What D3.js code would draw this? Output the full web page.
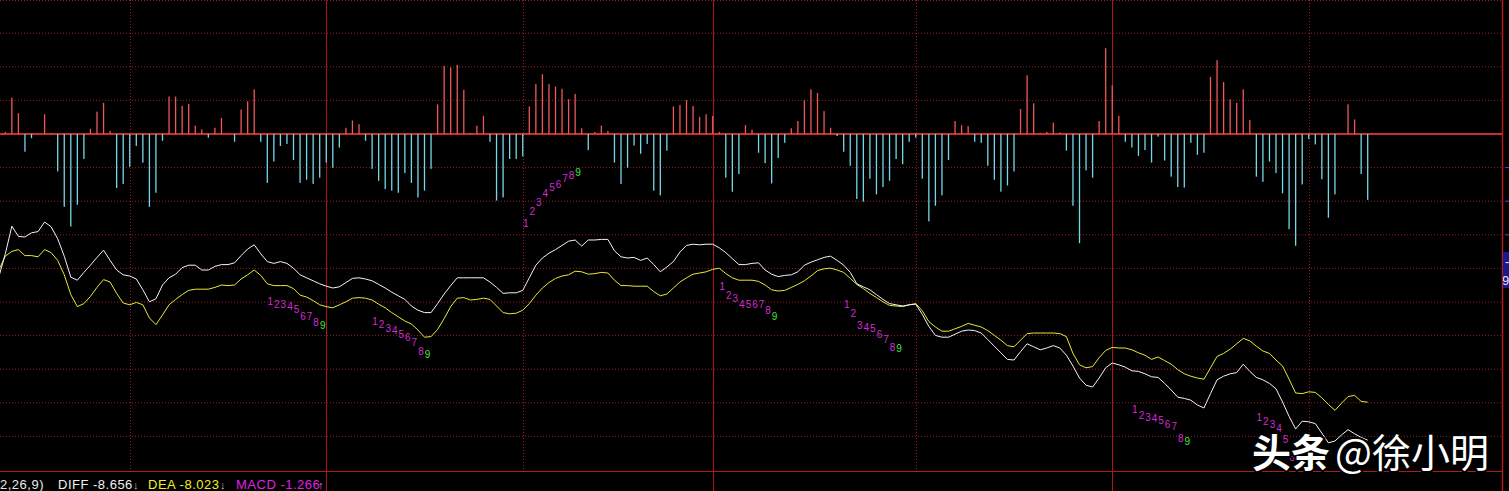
<!DOCTYPE html>
<html><head><meta charset="utf-8">
<script src="https://cdn.jsdelivr.net/npm/d3@7"></script>
<style>html,body{margin:0;padding:0;background:#000;overflow:hidden}</style>
</head><body>
<svg id="c" width="1509" height="491"></svg>
<script>
// MACD histogram values (index 0..209)
const macd=[0,0.04,0.70,0.40,-0.34,-0.08,0,0.38,0.02,-0.72,
 -1.40,-1.78,-1.36,-0.48,0.10,0.43,0.60,0.06,-1.04,-0.96,
 -0.63,-0.23,-0.55,-1.40,-1.13,-0.13,0.72,0.72,0.54,0.58,
 0.16,0.09,-0.07,0.12,0.31,0,-0.15,0.47,0.63,0.86,
 -0.15,-0.94,-0.53,-0.23,-0.19,-0.50,-0.94,-0.88,-0.96,-0.84,
 -0.55,-0.65,-0.26,0.12,0.26,0.19,-0.13,-0.67,-0.90,-1.06,
 -1.09,-1.13,-0.75,-0.94,-1.22,-1.09,-0.67,0.57,1.31,1.28,
 1.33,0.85,0.02,0.16,0.35,-0.15,-1.28,-1.22,-0.48,-0.48,
 -0.43,0.53,0.96,1.15,0.96,0.91,0.87,0.67,0.77,0.11,
 -0.31,0.04,0.16,0.06,-0.55,-0.96,-0.65,-0.22,-0.38,-0.19,
 -1.09,-1.18,-0.32,0.53,0.56,0.65,0.54,0.33,0.38,0.35,
 0.04,-0.84,-1.11,-0.77,0.17,0.08,-0.36,-0.56,-0.95,-0.46,
 -0.17,0.11,0.25,0.65,0.86,0.79,0.44,0.12,-0.04,-0.34,
 -0.61,-1.25,-1.30,-0.86,-1.16,-1.02,-0.90,-0.48,-0.58,-0.15,
 -0.07,-0.86,-1.68,-1.38,-1.18,-0.50,0.25,0.17,0.15,-0.15,
 -0.17,-0.61,-0.88,-1.11,-0.99,-0.72,0.48,1.13,0.59,0.02,
 0.04,0.22,0.03,-0.32,-1.38,-2.10,-0.70,-0.84,0.25,1.65,
 0.94,0.35,-0.15,-0.26,-0.42,-0.31,-0.55,-0.05,-0.51,-0.82,
 -1.02,-1.03,-0.17,-0.40,-0.36,1.10,1.42,1.00,0.67,0.60,
 0.86,0.27,-0.82,-0.92,-0.53,-0.75,-1.14,-1.83,-2.15,-0.97,
 -0.10,-0.20,-0.87,-1.61,-1.16,0,0.57,0.28,-0.77,-1.266];

// DIFF line (white)
const diff=[-5.94,-5.55,-5.09,-5.26,-5.27,-5.20,-5.18,-5.02,-5.10,-5.30,
 -5.59,-5.94,-5.99,-5.86,-5.74,-5.61,-5.49,-5.66,-5.82,-5.90,
 -5.92,-5.97,-6.15,-6.35,-6.30,-6.07,-5.95,-5.89,-5.78,-5.74,
 -5.74,-5.82,-5.82,-5.76,-5.73,-5.73,-5.70,-5.58,-5.47,-5.40,
 -5.55,-5.68,-5.71,-5.68,-5.71,-5.79,-5.90,-5.95,-6.00,-6.05,
 -6.09,-6.12,-6.10,-6.03,-5.96,-5.95,-5.97,-6.00,-6.06,-6.12,
 -6.19,-6.25,-6.31,-6.42,-6.49,-6.53,-6.53,-6.38,-6.22,-6.08,
 -5.95,-5.95,-5.95,-5.95,-5.95,-6.02,-6.11,-6.21,-6.20,-6.20,
 -6.16,-5.95,-5.74,-5.62,-5.54,-5.48,-5.41,-5.34,-5.32,-5.42,
 -5.32,-5.32,-5.31,-5.31,-5.50,-5.60,-5.62,-5.61,-5.66,-5.62,
 -5.73,-5.85,-5.77,-5.68,-5.52,-5.41,-5.39,-5.40,-5.39,-5.39,
 -5.45,-5.53,-5.63,-5.73,-5.73,-5.71,-5.70,-5.82,-5.89,-5.93,
 -5.91,-5.90,-5.85,-5.74,-5.69,-5.65,-5.61,-5.59,-5.66,-5.74,
 -5.86,-6.05,-6.10,-6.15,-6.23,-6.31,-6.38,-6.40,-6.42,-6.40,
 -6.39,-6.56,-6.76,-6.91,-6.94,-6.94,-6.89,-6.84,-6.82,-6.83,
 -6.87,-6.98,-7.09,-7.20,-7.31,-7.32,-7.18,-7.05,-7.10,-7.15,
 -7.12,-7.08,-7.12,-7.24,-7.42,-7.62,-7.74,-7.77,-7.62,-7.45,
 -7.37,-7.40,-7.44,-7.50,-7.51,-7.55,-7.60,-7.61,-7.71,-7.82,
 -7.94,-7.96,-7.99,-8.07,-8.12,-7.88,-7.65,-7.59,-7.55,-7.53,
 -7.39,-7.51,-7.61,-7.65,-7.71,-7.80,-8.02,-8.26,-8.47,-8.34,
 -8.35,-8.38,-8.54,-8.70,-8.67,-8.57,-8.48,-8.55,-8.61,-8.656];

// DEA line (yellow)
const dea=[-5.82,-5.59,-5.51,-5.48,-5.58,-5.58,-5.60,-5.48,-5.53,-5.66,
 -5.90,-6.23,-6.43,-6.38,-6.26,-6.11,-5.98,-6.02,-6.21,-6.37,
 -6.40,-6.36,-6.40,-6.62,-6.73,-6.57,-6.40,-6.31,-6.23,-6.16,
 -6.14,-6.14,-6.14,-6.11,-6.07,-6.08,-6.07,-5.97,-5.90,-5.82,
 -5.91,-6.05,-6.08,-6.08,-6.08,-6.13,-6.24,-6.27,-6.33,-6.40,
 -6.43,-6.45,-6.40,-6.35,-6.29,-6.28,-6.29,-6.32,-6.39,-6.45,
 -6.53,-6.60,-6.67,-6.72,-6.82,-6.94,-6.93,-6.81,-6.63,-6.43,
 -6.29,-6.28,-6.32,-6.31,-6.29,-6.31,-6.42,-6.53,-6.55,-6.54,
 -6.49,-6.38,-6.24,-6.12,-6.03,-5.96,-5.92,-5.90,-5.84,-5.85,
 -5.89,-5.88,-5.86,-5.87,-5.99,-6.08,-6.08,-6.09,-6.09,-6.09,
 -6.18,-6.25,-6.22,-6.12,-6.02,-5.95,-5.89,-5.87,-5.85,-5.81,
 -5.79,-5.88,-5.95,-5.99,-5.99,-5.99,-6.01,-6.07,-6.15,-6.17,
 -6.16,-6.11,-6.06,-6.00,-5.92,-5.83,-5.80,-5.79,-5.82,-5.86,
 -5.96,-6.06,-6.13,-6.21,-6.28,-6.35,-6.41,-6.42,-6.43,-6.40,
 -6.38,-6.50,-6.68,-6.77,-6.84,-6.84,-6.80,-6.76,-6.71,-6.74,
 -6.77,-6.83,-6.91,-6.99,-7.08,-7.10,-6.99,-6.88,-6.87,-6.87,
 -6.87,-6.87,-6.88,-6.93,-7.21,-7.40,-7.45,-7.43,-7.28,-7.16,
 -7.11,-7.12,-7.12,-7.15,-7.20,-7.24,-7.31,-7.27,-7.33,-7.39,
 -7.48,-7.55,-7.59,-7.62,-7.64,-7.45,-7.26,-7.21,-7.14,-7.05,
 -6.96,-7.00,-7.09,-7.17,-7.21,-7.32,-7.42,-7.64,-7.87,-7.88,
 -7.85,-7.86,-7.95,-8.06,-8.16,-8.04,-7.93,-7.91,-8.01,-8.023];

// period separators (bar indices): dotted / solid alternate
const separatorsDotted=[20,80,140,200];
const separatorsSolid=[50,109,170];

// sequential count markers: start index and level of each digit
const tdStarts=[80,41,57,110,129,173,192];
const tdLevels=[
 [-5.04,-4.85,-4.69,-4.54,-4.45,-4.39,-4.29,-4.24,-4.19],
 [-6.34,-6.40,-6.40,-6.42,-6.47,-6.59,-6.60,-6.69,-6.75],
 [-6.68,-6.72,-6.79,-6.83,-6.89,-6.95,-7.03,-7.18,-7.22],
 [-6.10,-6.25,-6.30,-6.40,-6.40,-6.40,-6.40,-6.50,-6.60],
 [-6.40,-6.54,-6.74,-6.77,-6.80,-6.89,-6.97,-7.11,-7.13],
 [-8.15,-8.25,-8.28,-8.29,-8.32,-8.39,-8.43,-8.63,-8.67],
 [-8.28,-8.35,-8.39,-8.46,-8.65,-8.95]
];

const legendParams="2,26,9)";
const legendDiff="DIFF -8.656";
const legendDea="DEA -8.023";
const legendMacd="MACD -1.266";
const watermarkA="头条";
const watermarkB="@徐小明";

// ---------------- drawing ----------------
const W=1509,H=491,plotRight=1502,plotBottom=471;
const svg=d3.select("#c");
svg.append("rect").attr("width",W).attr("height",H).attr("fill","#000");

const x=d3.scaleLinear().domain([0,macd.length-1]).range([-1.25,1367.7]);
const yBar=d3.scaleLinear().domain([-2.5,2.5]).range([264,4]);
const yLine=d3.scaleLinear().domain([-4,-9]).range([160.8,460.8]);
const zeroY=yBar(0), step=33.6;

// horizontal dotted grid
const rows=d3.range(-4,10).filter(k=>k!==0).map(k=>zeroY+k*step);
svg.append("g").selectAll("line").data(rows).join("line")
 .attr("x1",0).attr("x2",plotRight).attr("y1",d=>Math.max(0.5,d)).attr("y2",d=>Math.max(0.5,d))
 .attr("stroke","#9a1c1c").attr("stroke-width",1).attr("stroke-dasharray","1,2");

// vertical separators
svg.append("g").selectAll("line").data(separatorsDotted).join("line")
 .attr("x1",d=>Math.round(x(d))+0.5).attr("x2",d=>Math.round(x(d))+0.5)
 .attr("y1",0).attr("y2",plotBottom)
 .attr("stroke","#9a1c1c").attr("stroke-width",1).attr("stroke-dasharray","1,2");
svg.append("g").selectAll("line").data(separatorsSolid).join("line")
 .attr("x1",d=>Math.round(x(d))+0.5).attr("x2",d=>Math.round(x(d))+0.5)
 .attr("y1",0).attr("y2",H)
 .attr("stroke","#a81818").attr("stroke-width",1);

// frame lines
svg.append("line").attr("x1",0).attr("x2",plotRight).attr("y1",plotBottom+0.5).attr("y2",plotBottom+0.5)
 .attr("stroke","#b01c1c").attr("stroke-width",1);
svg.append("line").attr("x1",plotRight+0.5).attr("x2",plotRight+0.5).attr("y1",0).attr("y2",H)
 .attr("stroke","#b01c1c").attr("stroke-width",1.5);

// zero line
svg.append("line").attr("x1",0).attr("x2",plotRight).attr("y1",zeroY).attr("y2",zeroY)
 .attr("stroke","#c83030").attr("stroke-width",2);

// histogram bars
svg.append("g").selectAll("rect").data(macd.map((v,i)=>({v,i})).filter(d=>d.v!==0)).join("rect")
 .attr("x",d=>x(d.i)-0.65).attr("width",1.3)
 .attr("y",d=>Math.min(yBar(d.v),zeroY))
 .attr("height",d=>Math.abs(yBar(d.v)-zeroY))
 .attr("fill",d=>d.v>0?"#f05656":"#74d8e8");

// lines
const line=d3.line().x((d,i)=>x(i)).y(d=>yLine(d));
svg.append("path").attr("d",line(dea)).attr("fill","none").attr("stroke","#eaea38").attr("stroke-width",1);
svg.append("path").attr("d",line(diff)).attr("fill","none").attr("stroke","#f4f4f4").attr("stroke-width",1);

// sequential count digits
const tdG=svg.append("g").attr("font-family","Liberation Sans, Arial, sans-serif").attr("font-size",10);
tdStarts.forEach((s,j)=>{
  tdLevels[j].forEach((lv,k)=>{
    tdG.append("text").attr("x",x(s+k)+3).attr("y",yLine(lv))
      .attr("text-anchor","middle").attr("dominant-baseline","central")
      .attr("fill",k===8?"#3ce83c":"#d42ad4").text(String(k+1));
  });
});

// right edge label box and ticks
svg.append("g").selectAll("line").data([1,2,3]).join("line")
 .attr("x1",1505).attr("x2",W).attr("y1",d=>zeroY+d*step).attr("y2",d=>zeroY+d*step)
 .attr("stroke","#3a58c8").attr("stroke-width",1);
svg.append("clipPath").attr("id","boxclip").append("rect").attr("x",1503).attr("y",252).attr("width",6).attr("height",36);
svg.append("rect").attr("x",1503).attr("y",252).attr("width",6).attr("height",36).attr("fill","#1a1a8e");
const bt=svg.append("g").attr("clip-path","url(#boxclip)").attr("font-family","Liberation Sans, Arial, sans-serif").attr("font-size",13).attr("fill","#e6e6ff");
bt.append("text").attr("x",1505).attr("y",266).text("-");
bt.append("text").attr("x",1502).attr("y",285).text("9");

// legend
const lg=svg.append("g").attr("font-family","Liberation Sans, Arial, DejaVu Sans, sans-serif").attr("font-size",13).attr("letter-spacing",0.5);
lg.append("text").attr("x",0).attr("y",489).attr("fill","#e8e8e8").text(legendParams);
lg.append("text").attr("x",58).attr("y",489).attr("fill","#f0f0f0").text(legendDiff);
lg.append("text").attr("x",133).attr("y",489).attr("fill","#bdbdbd").attr("font-size",11).text("↓");
lg.append("text").attr("x",148).attr("y",489).attr("fill","#f0f020").text(legendDea);
lg.append("text").attr("x",220).attr("y",489).attr("fill","#bdbdbd").attr("font-size",11).text("↓");
lg.append("text").attr("x",236).attr("y",489).attr("fill","#e020e0").text(legendMacd);
lg.append("text").attr("x",318).attr("y",489).attr("fill","#ff60ff").attr("font-size",11).text("↑");

// watermark
const wm=svg.append("g").attr("font-family","Noto Sans CJK SC, sans-serif").attr("font-size",39)
 .attr("fill","#ffffff").attr("stroke","#000").attr("stroke-width",4).attr("paint-order","stroke");
wm.append("text").attr("x",1252).attr("y",467).attr("font-weight",700).text(watermarkA);
wm.append("text").attr("x",1335).attr("y",467).attr("font-weight",400).text(watermarkB);
</script>
</body></html>
